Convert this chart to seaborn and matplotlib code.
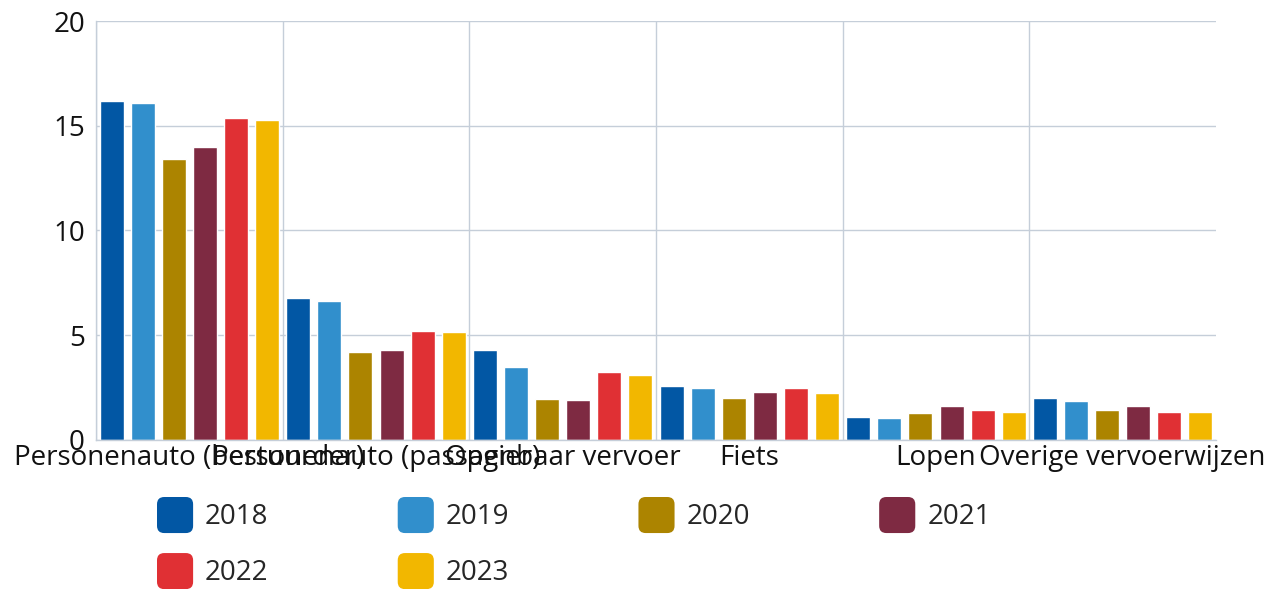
import pandas as pd
import matplotlib
matplotlib.use("Agg")
import matplotlib.pyplot as plt
import seaborn as sns
from matplotlib.patches import FancyBboxPatch
from matplotlib.legend_handler import HandlerPatch

categories = ["Personenauto (bestuurder)", "Personenauto (passagier)", "Openbaar vervoer",
              "Fiets", "Lopen", "Overige vervoerwijzen"]
years = ["2018", "2019", "2020", "2021", "2022", "2023"]
v2018 = [16.2, 6.8, 4.3, 2.58, 1.1, 2.0]
v2019 = [16.1, 6.62, 3.5, 2.5, 1.03, 1.88]
v2020 = [13.43, 4.18, 1.94, 2.0, 1.29, 1.43]
v2021 = [13.97, 4.31, 1.89, 2.29, 1.62, 1.64]
v2022 = [15.35, 5.22, 3.25, 2.48, 1.41, 1.34]
v2023 = [15.26, 5.14, 3.1, 2.24, 1.33, 1.35]
colors = ["#0257A4", "#318FCC", "#AC8400", "#7E2A42", "#E03034", "#F2B700"]

series = [v2018, v2019, v2020, v2021, v2022, v2023]
rows = []
for year, vals in zip(years, series):
    for cat, v in zip(categories, vals):
        rows.append({"categorie": cat, "jaar": year, "waarde": v})
df = pd.DataFrame(rows)

sns.set_style("white")
plt.rcParams['font.family'] = ['Open Sans', 'DejaVu Sans']

fig = plt.figure(figsize=(12.72, 5.89), dpi=100)
ax = fig.add_axes([96 / 1272, 1 - 440 / 589, 1120 / 1272, 419 / 589])

sns.barplot(data=df, x="categorie", y="waarde", hue="jaar", order=categories,
            hue_order=years, palette=colors, width=1.0, gap=0.23, ax=ax,
            saturation=1, legend=False)

grid_c = "#C5CED9"
ax.set_ylim(0, 20)
ax.set_xlim(-0.5, len(categories) - 0.5)
ax.set_yticks([0, 5, 10, 15, 20])
ax.set_xticks(range(len(categories)))
# vertical lines between the groups (none on the right edge)
ax.set_xticks([i - 0.5 for i in range(len(categories))], minor=True)
ax.yaxis.grid(True, color=grid_c, linewidth=1)
ax.xaxis.grid(True, which="minor", color=grid_c, linewidth=1)
ax.set_axisbelow(True)
for s in ["top", "right"]:
    ax.spines[s].set_visible(False)
for s in ["left", "bottom"]:
    ax.spines[s].set_color(grid_c)
    ax.spines[s].set_linewidth(1)
ax.tick_params(axis="both", which="both", length=0, labelsize=20, colors="#111111")
ax.tick_params(axis="y", pad=8)
ax.tick_params(axis="x", pad=3)
ax.set_xlabel("")
ax.set_ylabel("")


class RoundHandler(HandlerPatch):
    def create_artists(self, legend, orig_handle, xdescent, ydescent, width, height, fontsize, trans):
        p = FancyBboxPatch((-xdescent, -ydescent), width, height,
                           boxstyle="round,pad=0,rounding_size=%f" % (0.2 * height),
                           facecolor=orig_handle.get_facecolor(), edgecolor="none",
                           transform=trans)
        return [p]


# legend is filled column by column, so reorder to read row by row
order = [0, 4, 1, 5, 2, 3]
handles = [plt.Rectangle((0, 0), 1, 1, facecolor=colors[i]) for i in order]
labels = [years[i] for i in order]
fig.legend(handles, labels, ncol=4, loc="upper left", bbox_to_anchor=(157 / 1272, 1 - 497 / 589),
           frameon=False, fontsize=20, handlelength=1.3, handleheight=1.62, borderpad=0,
           borderaxespad=0, handletextpad=0.43, columnspacing=4.65, labelspacing=0.72,
           handler_map={plt.Rectangle: RoundHandler()})

fig.savefig("out.png", dpi=100)
